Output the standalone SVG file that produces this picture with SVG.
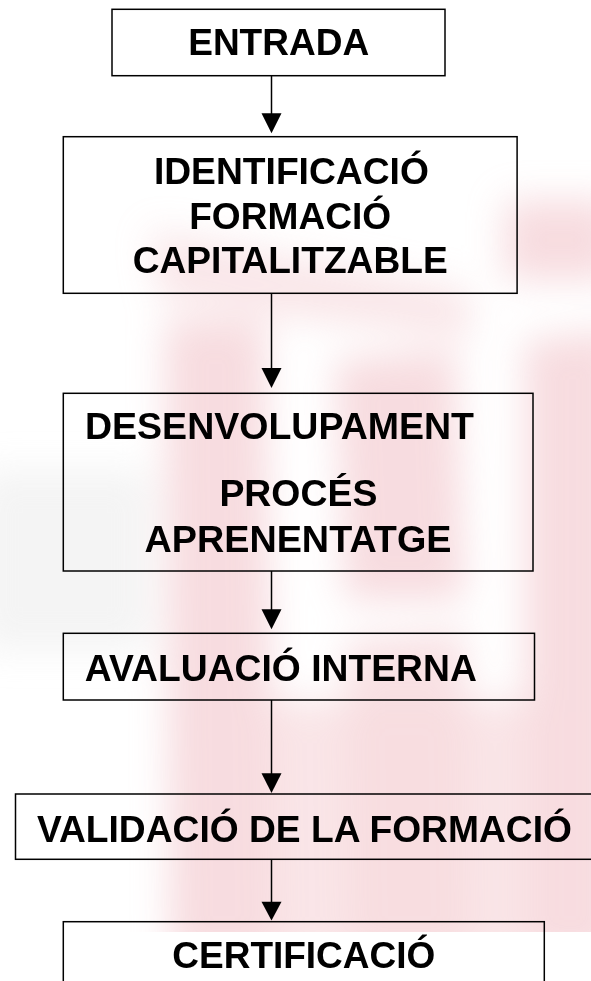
<svg xmlns="http://www.w3.org/2000/svg" width="591" height="981" viewBox="0 0 591 981">
<style>
.box{fill:none;stroke:#000;stroke-width:1.5}
.lbl{font-family:"Liberation Sans",Arial,sans-serif;font-weight:bold;font-size:37px;fill:#000;text-anchor:middle}
.conn line{stroke:#000;stroke-width:1.5}
.conn polygon{fill:#000}
.pk{fill:#f1c0c6}
</style>
<defs>
<filter id="blur" x="-50%" y="-50%" width="200%" height="200%"><feGaussianBlur stdDeviation="18"/></filter>
<clipPath id="bgclip"><rect x="0" y="0" width="591" height="932"/></clipPath>
</defs>
<rect width="591" height="981" fill="#fff"/>
<g id="background" clip-path="url(#bgclip)">
<g filter="url(#blur)" opacity="0.55">
<rect x="-20" y="470" width="170" height="180" fill="#e2e2e2" opacity="0.7"/>
<rect class="pk" x="505" y="200" width="110" height="80"/>
<polygon class="pk" points="150,230 470,290 470,340 160,300" opacity="0.7"/>
<polygon class="pk" points="165,320 265,320 275,960 170,960"/>
<polygon class="pk" points="335,360 455,350 465,600 345,600"/>
<polygon class="pk" points="345,640 465,630 470,960 350,960" opacity="0.85"/>
<polygon class="pk" points="525,340 620,330 620,960 525,960"/>
<rect class="pk" x="250" y="700" width="360" height="260" opacity="0.75"/>
</g>
</g>
<g id="connectors" class="conn">
<line x1="271.5" y1="75.7" x2="271.5" y2="114"/>
<polygon points="261.5,113.3 281.5,113.3 271.5,133.3"/>
<line x1="271.5" y1="293.3" x2="271.5" y2="369"/>
<polygon points="261.5,368 281.5,368 271.5,388"/>
<line x1="271.5" y1="571" x2="271.5" y2="610"/>
<polygon points="261.5,609.3 281.5,609.3 271.5,629.3"/>
<line x1="271.5" y1="700" x2="271.5" y2="774"/>
<polygon points="261.5,773.3 281.5,773.3 271.5,793"/>
<line x1="271.5" y1="859.3" x2="271.5" y2="902"/>
<polygon points="261.5,901.7 281.5,901.7 271.5,920.5"/>
</g>
<g id="node-entrada">
<rect class="box" x="112" y="9.3" width="333" height="66.4"/>
<text class="lbl" x="278.7" y="55" textLength="181" lengthAdjust="spacingAndGlyphs">ENTRADA</text>
</g>
<g id="node-identificacio">
<rect class="box" x="63.3" y="136.7" width="453.8" height="156.6"/>
<text class="lbl" x="291.4" y="184" textLength="275" lengthAdjust="spacingAndGlyphs">IDENTIFICACIÓ</text>
<text class="lbl" x="290.2" y="228.7" textLength="202" lengthAdjust="spacingAndGlyphs">FORMACIÓ</text>
<text class="lbl" x="290.2" y="273.3" textLength="315" lengthAdjust="spacingAndGlyphs">CAPITALITZABLE</text>
</g>
<g id="node-desenvolupament">
<rect class="box" x="63.3" y="393.3" width="469.7" height="177.7"/>
<text class="lbl" x="279.5" y="439.3" textLength="389" lengthAdjust="spacingAndGlyphs">DESENVOLUPAMENT</text>
<text class="lbl" x="298.4" y="506" textLength="158" lengthAdjust="spacingAndGlyphs">PROCÉS</text>
<text class="lbl" x="298" y="551.7" textLength="307" lengthAdjust="spacingAndGlyphs">APRENENTATGE</text>
</g>
<g id="node-avaluacio">
<rect class="box" x="63.3" y="633.3" width="471.2" height="66.7"/>
<text class="lbl" x="280.8" y="680.7" textLength="392" lengthAdjust="spacingAndGlyphs">AVALUACIÓ INTERNA</text>
</g>
<g id="node-validacio">
<rect class="box" x="15.5" y="794" width="600" height="65.3"/>
<text class="lbl" x="304.4" y="841.5" textLength="535" lengthAdjust="spacingAndGlyphs">VALIDACIÓ DE LA FORMACIÓ</text>
</g>
<g id="node-certificacio">
<rect class="box" x="63.3" y="921.7" width="481" height="80"/>
<text class="lbl" x="303.8" y="968" textLength="263" lengthAdjust="spacingAndGlyphs">CERTIFICACIÓ</text>
</g>
</svg>
